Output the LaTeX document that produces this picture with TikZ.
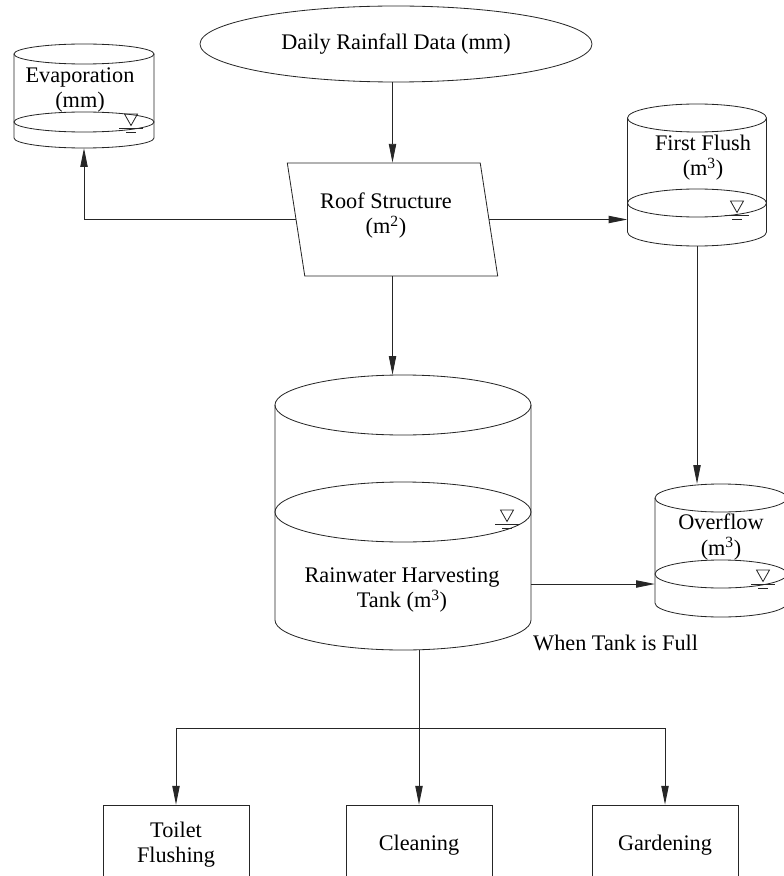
\documentclass[tikz,border=0pt]{standalone}
\usepackage{fontspec}
\setmainfont{Liberation Serif}
\usetikzlibrary{arrows.meta,shapes.geometric,fit}

% cylinder outline: cx, rx, ry, top y, bottom y, water y
\newcommand{\tankbody}[6]{%
  \draw[line] (#1,#4) ellipse [x radius=#2, y radius=#3];
  \draw[line] (#1,#6) ellipse [x radius=#2, y radius=#3];
  \draw[line] (#1-#2,#4) -- (#1-#2,#5) arc [start angle=180, end angle=360, x radius=#2, y radius=#3] -- (#1+#2,#4);
}
% water level mark: x, y of the ground line
\newcommand{\levelmark}[2]{%
  \draw[line] (#1-6.5,#2+14) -- (#1+6.5,#2+14) -- (#1,#2+2.5) -- cycle;
  \draw[line] (#1-12,#2) -- (#1+12,#2);
  \draw[line] (#1-5,#2-4) -- (#1+5,#2-4);
}

\begin{document}
\begin{tikzpicture}[x=0.03cm, y=0.03cm,
    font=\fontsize{19pt}{21.5pt}\selectfont,
    line/.style={line width=0.7pt, draw=black!85},
    flow/.style={line, -{Triangle[length=0.56cm, width=0.22cm]}},
    lbl/.style={align=center, inner sep=0pt},
    usebox/.style={draw, line, minimum width=4.38cm, minimum height=2.4cm, align=center, inner sep=0pt}]
    \useasboundingbox (0,0) rectangle (783,-876);

    % Input and roof
    \node[draw, line, ellipse, minimum width=11.76cm, minimum height=2.28cm, inner sep=0pt] (rain) at (396,-44) {Daily Rainfall Data (mm)};

    \node[draw, line, trapezium, trapezium left angle=97, trapezium right angle=83, trapezium stretches=true,
        minimum width=6.33cm, minimum height=3.39cm] (roof) at (392.5,-219.5) {\phantom{M}};
    \node[lbl] (rooftext) at (386,-215.5) {Roof Structure\\(m\textsuperscript{2})};

    % Evaporation
    \tankbody{84}{70}{10}{-54}{-138}{-122}
    \levelmark{131}{-128}
    \node[fit={(14,-44) (154,-148)}, inner sep=0pt] (evap) {};
    \node[lbl] (evaptext) at (80,-90) {Evaporation\\(mm)};

    % First flush
    \tankbody{697}{69.5}{14}{-118}{-232}{-203}
    \levelmark{737}{-215}
    \node[fit={(627.5,-104) (766.5,-246)}, inner sep=0pt] (flush) {};
    \node[lbl] (flushtext) at (703,-158) {First Flush\\(m\textsuperscript{3})};

    % Storage tank
    \tankbody{403}{128}{30}{-405}{-620}{-512}
    \levelmark{507}{-524}
    \node[fit={(275,-375) (531,-650)}, inner sep=0pt] (tank) {};
    \node[lbl] (tanktext) at (402,-590) {Rainwater Harvesting\\Tank (m\textsuperscript{3})};

    % Overflow
    \tankbody{721}{66}{14}{-498}{-603}{-574}
    \levelmark{763}{-584}
    \node[fit={(655,-484) (787,-617)}, inner sep=0pt] (over) {};
    \node[lbl] (overtext) at (721,-537) {Overflow\\(m\textsuperscript{3})};

    \node[lbl, anchor=west] (fulltext) at (533,-643) {When Tank is Full};

    % Uses
    \node[usebox] (toilet) at (176,-845) {Toilet\\Flushing};
    \node[usebox] (clean) at (419,-845) {Cleaning};
    \node[usebox] (garden) at (665,-845) {Gardening};

    % Flows
    \draw[flow] (rain.south -| roof.center) -- (roof.north -| roof.center);
    \draw[flow] (roof.west) -| (evap.south);
    \draw[flow] (roof.east) -- (roof.east -| flush.west);
    \draw[flow] (roof.south -| roof.center) -- (tank.north -| roof.center);
    \draw[flow] (flush.south) -- (flush.south |- over.north);
    \coordinate (spill) at (531,-584);
    \draw[flow] (spill) -- (spill -| over.west);

    \coordinate (split) at (419,-728);
    \draw[flow] (tank.south -| clean.north) -- (clean.north);
    \draw[line] (toilet.north |- split) -- (garden.north |- split);
    \draw[flow] (toilet.north |- split) -- (toilet.north);
    \draw[flow] (garden.north |- split) -- (garden.north);

\end{tikzpicture}
\end{document}
